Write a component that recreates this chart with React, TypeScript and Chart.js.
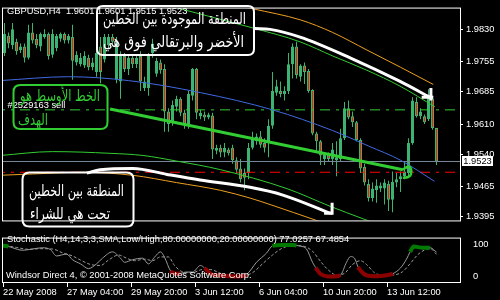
import React, { useEffect, useRef } from "react";
import { Chart, registerables } from "chart.js";

Chart.register(...registerables);

// ---------- DATA ----------
const symbolLabel = "GBPUSD,H4";

const candleOpen = [
  1.9775, 1.9815, 1.9793, 1.9801, 1.9782, 1.979, 1.9764, 1.9823, 1.9808, 1.979,
  1.9812, 1.9819, 1.9771, 1.9786, 1.9808, 1.9819, 1.9804, 1.9812, 1.9753, 1.9749,
  1.9746, 1.9764, 1.9742, 1.9731, 1.979, 1.976, 1.9793, 1.9812, 1.9713, 1.9709,
  1.9768, 1.9738, 1.9764, 1.9749, 1.9768, 1.9694, 1.9694, 1.9775, 1.9727, 1.9753,
  1.9738, 1.9639, 1.9614, 1.965, 1.9669, 1.9636, 1.961, 1.9676, 1.9738, 1.9628,
  1.9632, 1.9625, 1.963, 1.9548, 1.9555, 1.9544, 1.9551, 1.9555, 1.9526, 1.9507,
  1.9496, 1.9496, 1.9555, 1.957, 1.9581, 1.9566, 1.9566, 1.9606, 1.9683, 1.9687,
  1.968, 1.9687, 1.9749, 1.979, 1.972, 1.9746, 1.9733, 1.9689, 1.9588, 1.957,
  1.9529, 1.954, 1.9529, 1.9526, 1.9529, 1.9577, 1.9647, 1.9628, 1.9614, 1.9573,
  1.9511, 1.9471, 1.9438, 1.9456, 1.946, 1.946, 1.9471, 1.9434, 1.9474, 1.9482,
  1.9489, 1.9496, 1.9566, 1.9661, 1.9628, 1.9628, 1.9621, 1.9669, 1.9601,
];
const candleHigh = [
  1.9845, 1.9823, 1.9845, 1.9808, 1.9797, 1.9797, 1.9841, 1.9845, 1.9819, 1.9823,
  1.983, 1.9823, 1.983, 1.9819, 1.9823, 1.9823, 1.9819, 1.9841, 1.9779, 1.9775,
  1.9779, 1.9771, 1.9764, 1.9786, 1.9812, 1.9819, 1.9819, 1.9819, 1.9812, 1.9779,
  1.9775, 1.9771, 1.9771, 1.9771, 1.9779, 1.972, 1.9775, 1.9808, 1.9764, 1.976,
  1.9749, 1.9647, 1.9665, 1.9676, 1.9672, 1.9643, 1.9687, 1.974, 1.974, 1.9643,
  1.9639, 1.9636, 1.9636, 1.9562, 1.9562, 1.9566, 1.9555, 1.9562, 1.9533, 1.9529,
  1.9507, 1.9566, 1.9592, 1.9588, 1.9594, 1.9577, 1.9621, 1.9731, 1.9713, 1.9709,
  1.9698, 1.9775, 1.9797, 1.9801, 1.9749, 1.9753, 1.9738, 1.9691, 1.9592, 1.9573,
  1.9544, 1.9544, 1.9566, 1.957, 1.9599, 1.9661, 1.9665, 1.9639, 1.9617, 1.9577,
  1.9518, 1.9482, 1.9474, 1.9482, 1.9474, 1.9482, 1.9478, 1.95, 1.9496, 1.95,
  1.9522, 1.9577, 1.9672, 1.9672, 1.9647, 1.9632, 1.9691, 1.9676, 1.9601,
];
const candleLow = [
  1.9768, 1.9786, 1.9784, 1.9771, 1.9775, 1.9753, 1.976, 1.9797, 1.9786, 1.9779,
  1.9808, 1.976, 1.9764, 1.9779, 1.9801, 1.9797, 1.9797, 1.9713, 1.9746, 1.9744,
  1.974, 1.9735, 1.9735, 1.972, 1.9705, 1.9753, 1.9786, 1.9793, 1.9705, 1.9669,
  1.9731, 1.9724, 1.974, 1.974, 1.9687, 1.9687, 1.9676, 1.9764, 1.972, 1.9727,
  1.9592, 1.9592, 1.9606, 1.9639, 1.9628, 1.9599, 1.9599, 1.9665, 1.9621, 1.9621,
  1.9617, 1.9621, 1.9529, 1.954, 1.9533, 1.9533, 1.9537, 1.9518, 1.9496, 1.9474,
  1.9456, 1.9482, 1.9551, 1.9562, 1.9555, 1.9544, 1.9533, 1.9599, 1.9676, 1.9672,
  1.9665, 1.968, 1.9716, 1.9716, 1.9709, 1.9703, 1.9683, 1.9584, 1.9548, 1.9515,
  1.9515, 1.9522, 1.9515, 1.9489, 1.9522, 1.9573, 1.9621, 1.9603, 1.957, 1.9496,
  1.9467, 1.943, 1.943, 1.9427, 1.9452, 1.9423, 1.9408, 1.9405, 1.9463, 1.9452,
  1.9482, 1.9489, 1.9562, 1.9625, 1.9621, 1.961, 1.9617, 1.9597, 1.9515,
];
const candleClose = [
  1.9819, 1.9797, 1.983, 1.9779, 1.979, 1.9764, 1.9823, 1.9804, 1.9793, 1.9819,
  1.9819, 1.9768, 1.9819, 1.9815, 1.9819, 1.9804, 1.9815, 1.9757, 1.9771, 1.9764,
  1.9768, 1.9742, 1.9753, 1.9775, 1.9731, 1.9812, 1.9812, 1.9801, 1.9797, 1.9768,
  1.9738, 1.9764, 1.9749, 1.9764, 1.9709, 1.9709, 1.9768, 1.9797, 1.9757, 1.9735,
  1.9639, 1.961, 1.9654, 1.9669, 1.9636, 1.961, 1.968, 1.9738, 1.9636, 1.9636,
  1.9625, 1.9632, 1.9551, 1.9555, 1.9544, 1.9555, 1.9542, 1.9526, 1.9504, 1.9482,
  1.9485, 1.9555, 1.9577, 1.9581, 1.9562, 1.9555, 1.9606, 1.9687, 1.9698, 1.968,
  1.9687, 1.9749, 1.979, 1.9724, 1.9746, 1.9731, 1.9687, 1.9588, 1.957, 1.9537,
  1.954, 1.9529, 1.9551, 1.9533, 1.9577, 1.9647, 1.9625, 1.9614, 1.9573, 1.9507,
  1.9474, 1.9438, 1.946, 1.9467, 1.9467, 1.9474, 1.9434, 1.9476, 1.9482, 1.9489,
  1.95, 1.9566, 1.9665, 1.9628, 1.9639, 1.9614, 1.9672, 1.9601, 1.9523,
];

const xTickBars = [0, 16, 32, 48, 64, 80, 96];
const xTickLabels = [
  "22 May 2008",
  "27 May 04:00",
  "29 May 20:00",
  "3 Jun 12:00",
  "6 Jun 04:00",
  "10 Jun 20:00",
  "13 Jun 12:00",
];
const priceTicks = [1.983, 1.9755, 1.9685, 1.961, 1.954, 1.9465, 1.9395];
const stochTicks = [0, 100];

// indicator curves: [bar index, price]
const blueMA = [[-1, 1.9711], [16, 1.972], [31, 1.9711], [49, 1.9683], [67, 1.9643], [82, 1.9595], [91, 1.9559], [99, 1.9526], [107.5, 1.9477]];
const orangeUpper = [[48, 1.9907], [62, 1.9878], [74, 1.9852], [82, 1.9823], [90.6, 1.9782], [99, 1.9742], [107.2, 1.9702]];
const greenUpper = [[36.4, 1.9898], [43.9, 1.9878], [62.6, 1.9832], [73.9, 1.9801], [82.1, 1.9768], [90.6, 1.9735], [98.9, 1.9698], [107.6, 1.965]];
const greenLower = [[-1, 1.9537], [12, 1.9546], [26.4, 1.9542], [34.6, 1.9537], [43, 1.9524], [54, 1.9504], [70.6, 1.946], [81.4, 1.9419], [89.6, 1.939], [94, 1.9375]];
const orangeLower = [[-1, 1.9491], [7, 1.9494], [19.6, 1.9498], [32, 1.9491], [43, 1.9474], [54, 1.9456], [61.4, 1.9438], [66.4, 1.9423], [78, 1.9386], [81.4, 1.9375]];
const middleLine = [[26.4, 1.9645], [99.6, 1.9504]];
const middleHook = [[99.6, 1.9504], [100.9, 1.9511], [101.6, 1.9507], [101.6, 1.9493], [100.9, 1.9487], [99.6, 1.9485]];
const arrowUpper = [[62.6, 1.9832], [66.4, 1.983], [73.9, 1.9812], [86.4, 1.9764], [98.9, 1.9709], [106.4, 1.9672]];
const arrowUpperHeadV = [[106.6, 1.9694], [106.6, 1.9665]];
const arrowUpperHeadH = [[104.3, 1.9672], [107.2, 1.9672]];
const arrowLower = [[20.6, 1.9496], [23.9, 1.9504], [32.1, 1.9507], [40.6, 1.9493], [48.9, 1.948], [61.4, 1.9463], [69.6, 1.9445], [81.4, 1.9403]];
const arrowLowerHeadV = [[81.9, 1.9427], [81.9, 1.9399]];
const arrowLowerHeadH = [[79.9, 1.9403], [81.9, 1.9403]];

const orderTicket = "#2529163 sell";
const targetLevel = 1.9643;
const stopLevel = 1.9498;

// stochastic: [bar index, value]
const stochMain = [
  [-1, 98], [1, 95], [2, 91], [4.5, 83], [7, 87], [9.5, 91], [11.5, 85], [13, 65], [15.5, 71], [17, 53],
  [19, 40], [21, 25], [23, 40], [24.5, 58], [27, 78], [29, 58], [30, 45], [32, 53], [34.5, 58], [36, 40],
  [37.5, 61], [39, 78], [40, 61], [41.5, 18], [43, 9], [44, 10], [45.5, 14], [47, 14], [49, 35], [50, 27],
  [51.5, 9], [54, 3], [56.5, 1], [58.5, 0], [60.5, 6], [63, 45], [65.5, 74], [67, 97], [69.5, 100], [72, 100],
  [73, 98], [74, 96], [75.5, 87], [77, 45], [77.8, 28], [79, 8], [80.5, 1], [82, 0], [84, 5], [85.5, 45],
  [86.5, 63], [87.5, 58], [88.4, 30], [89.5, 12], [90.5, 4], [93, 1], [95.5, 4], [97.1, 9], [99, 27], [100.5, 55],
  [101.4, 78], [102.3, 95], [104.5, 91], [106.4, 91], [108, 77],
];
const stochSignal = [
  [-1, 100], [3, 92], [6, 86], [9, 88], [12, 87], [14.5, 75], [17, 65], [19, 52], [21.5, 38], [24, 35],
  [26, 52], [28.5, 68], [30.5, 58], [32.5, 50], [35, 55], [37, 50], [39, 62], [41, 62], [42.5, 35], [44.5, 15],
  [47, 12], [49.5, 22], [51.5, 22], [54, 10], [57, 3], [59.5, 2], [62, 12], [64.5, 40], [67, 68], [69.5, 90],
  [72.5, 98], [75, 95], [77, 80], [79, 48], [81, 20], [83, 5], [85, 10], [87, 38], [89, 50], [90.5, 38],
  [92.5, 12], [95, 3], [97.5, 5], [99.5, 15], [101.5, 42], [103, 65], [105, 84], [106.5, 88], [108, 70],
];
const stochRedZones = [[41.5, 44], [50, 60.5], [77.8, 84], [88.4, 97.1]];
const stochGreenZones = [[-1, 1], [67, 73], [101.4, 106.4]];
const stochLabel = "Stochastic (H4,14,3,3,SMA,Low/High,80.00000000,20.00000000) 77.0257 67.4854";
const copyrightLabel = "Windsor Direct 4, \u00A9 2001-2008 MetaQuotes Software Corp.";

const noteTop = ["المنطقة الموجودة بين الخطين", "الأخضر والبرتقالي فوق هي"];
const noteMiddle = ["الخط الأوسط هو", "الهدف"];
const noteBottom = ["المنطقة بين الخطين", "تحت هي للشراء"];

// ---------- STYLE ----------
const X_MIN = -0.375;
const X_MAX = 113.875;
const PRICE_MAX = 1.98783;
const PRICE_MIN = 1.93861;
const STOCH_MIN = -17.4;
const STOCH_MAX = 120;
const FONT_FAMILY = '"Liberation Sans", Arial, sans-serif';
const FONT_SIZE = 9.3;
const AR_FONT = '"DejaVu Sans", sans-serif';
const BULL = "#3cb371";
const BEAR = "#ff1a00";
const LIME = "#32cd32";
const ORANGE = "#eea020";
const BLUE = "#4169e1";

const pts = (arr: number[][]) => arr.map(([x, y]) => ({ x, y }));

function lineDs(arr: number[][], color: string, width: number, extra: any = {}) {
  return {
    type: "line",
    data: pts(arr),
    borderColor: color,
    borderWidth: width,
    pointRadius: 0,
    fill: false,
    tension: 0.4,
    cubicInterpolationMode: "monotone",
    order: 2,
    ...extra,
  };
}

function roundRectPath(ctx: CanvasRenderingContext2D, x: number, y: number, w: number, h: number, r: number) {
  ctx.beginPath();
  ctx.moveTo(x + r, y);
  ctx.lineTo(x + w - r, y);
  ctx.quadraticCurveTo(x + w, y, x + w, y + r);
  ctx.lineTo(x + w, y + h - r);
  ctx.quadraticCurveTo(x + w, y + h, x + w - r, y + h);
  ctx.lineTo(x + r, y + h);
  ctx.quadraticCurveTo(x, y + h, x, y + h - r);
  ctx.lineTo(x, y + r);
  ctx.quadraticCurveTo(x, y, x + r, y);
  ctx.closePath();
}

function fitArabic(ctx: CanvasRenderingContext2D, text: string, left: number, right: number, baseline: number, color: string) {
  ctx.save();
  ctx.font = `16px ${AR_FONT}`;
  ctx.direction = "rtl";
  ctx.textAlign = "right";
  ctx.textBaseline = "alphabetic";
  ctx.fillStyle = color;
  const w = ctx.measureText(text).width || 1;
  ctx.translate(right, baseline);
  ctx.scale((right - left) / w, 1);
  ctx.fillText(text, 0, 0);
  ctx.restore();
}

const mainOverlay = {
  id: "mainOverlay",
  afterDraw(chart: any) {
    const { ctx, chartArea: a, scales } = chart;
    ctx.save();
    ctx.strokeStyle = "#ffffff";
    ctx.lineWidth = 1;
    ctx.strokeRect(a.left - 0.5, a.top - 0.5, a.right - a.left + 1, a.bottom - a.top + 1);

    const n = candleClose.length - 1;
    const f = (v: number) => v.toFixed(4);
    ctx.font = `${FONT_SIZE}px ${FONT_FAMILY}`;
    ctx.fillStyle = "#ffffff";
    ctx.textAlign = "left";
    ctx.textBaseline = "middle";
    ctx.fillText(`${symbolLabel}  ${f(candleOpen[n])} ${f(candleHigh[n])} ${f(candleLow[n])} ${f(candleClose[n])}`, 7, 11);
    ctx.fillText(orderTicket, 7.5, 105);

    // bid label
    const bid = candleClose[n];
    const yb = Math.round(scales.y.getPixelForValue(bid));
    ctx.fillStyle = "#ffffff";
    ctx.fillRect(462, yb - 5, 31, 10);
    ctx.fillStyle = "#000000";
    ctx.textAlign = "center";
    ctx.fillText(f(bid), 477.5, yb + 0.5);

    // annotation boxes
    ctx.lineWidth = 2;
    ctx.strokeStyle = "#ffffff";
    roundRectPath(ctx, 97, 6, 157, 49, 6);
    ctx.stroke();
    fitArabic(ctx, noteTop[0], 103, 246, 24, "#ffffff");
    fitArabic(ctx, noteTop[1], 103, 244, 47, "#ffffff");

    ctx.strokeStyle = LIME;
    roundRectPath(ctx, 13.5, 85, 94, 44, 7);
    ctx.stroke();
    fitArabic(ctx, noteMiddle[0], 20, 100, 101, LIME);
    fitArabic(ctx, noteMiddle[1], 18, 48, 125, LIME);

    ctx.strokeStyle = "#ffffff";
    roundRectPath(ctx, 22.5, 172.5, 111, 54, 7);
    ctx.stroke();
    fitArabic(ctx, noteBottom[0], 29, 124, 196, "#ffffff");
    fitArabic(ctx, noteBottom[1], 30, 110, 219, "#ffffff");
    ctx.restore();
  },
};

const stochOverlay = {
  id: "stochOverlay",
  afterDraw(chart: any) {
    const { ctx, chartArea: a } = chart;
    ctx.save();
    ctx.strokeStyle = "#ffffff";
    ctx.lineWidth = 1;
    ctx.strokeRect(a.left - 0.5, a.top - 0.5, a.right - a.left + 1, a.bottom - a.top + 1);
    ctx.font = `${FONT_SIZE}px ${FONT_FAMILY}`;
    ctx.fillStyle = "#ffffff";
    ctx.textAlign = "left";
    ctx.textBaseline = "middle";
    ctx.fillText(stochLabel, 7, 11);
    ctx.fillText(copyrightLabel, 6, 47);
    ctx.restore();
  },
};

const inZone = (zones: number[][], x: number) => zones.some(([a, b]) => x >= a && x <= b);

export default function App() {
  const mainRef = useRef<HTMLCanvasElement>(null);
  const stochRef = useRef<HTMLCanvasElement>(null);

  useEffect(() => {
    const n = candleClose.length - 1;
    const wickData = candleOpen.map((_, i) => ({ x: i, y: [candleLow[i], candleHigh[i]] }));
    const bodyData = candleOpen.map((o, i) => ({ x: i, y: [o, candleClose[i]] }));
    const bodyFill = candleOpen.map((o, i) => (candleClose[i] >= o ? BULL : BEAR));
    const hLine = (v: number) => [[X_MIN - 2, v], [X_MAX + 2, v]];

    const main = new Chart(mainRef.current as HTMLCanvasElement, {
      type: "bar",
      data: {
        datasets: [
          {
            type: "bar",
            data: wickData,
            backgroundColor: BULL,
            borderWidth: 0,
            barThickness: 1,
            grouped: false,
            inflateAmount: 0,
            order: 11,
          },
          {
            type: "bar",
            data: bodyData,
            backgroundColor: bodyFill,
            borderColor: BULL,
            borderWidth: 1,
            borderSkipped: false,
            barThickness: 3,
            minBarLength: 1,
            grouped: false,
            inflateAmount: 0,
            order: 10,
          },
          lineDs(orangeUpper, ORANGE, 1),
          lineDs(orangeLower, ORANGE, 1),
          lineDs(greenUpper, LIME, 1),
          lineDs(greenLower, LIME, 1),
          lineDs(blueMA, BLUE, 1),
          lineDs(hLine(targetLevel), LIME, 1, { tension: 0, borderDash: [10, 6, 3, 6] }),
          lineDs(hLine(stopLevel), "#ff0000", 1, { tension: 0, borderDash: [10, 6, 3, 6] }),
          lineDs(hLine(candleClose[n]), "#778899", 1, { tension: 0 }),
          lineDs(middleLine, LIME, 3, { tension: 0, order: 1 }),
          lineDs(middleHook, LIME, 2.5, { cubicInterpolationMode: "default", tension: 0.4, order: 1 }),
          lineDs(arrowUpper, "#ffffff", 3, { order: 0 }),
          lineDs(arrowUpperHeadV, "#ffffff", 3, { tension: 0, order: 0 }),
          lineDs(arrowUpperHeadH, "#ffffff", 3, { tension: 0, order: 0 }),
          lineDs(arrowLower, "#ffffff", 3, { order: 0 }),
          lineDs(arrowLowerHeadV, "#ffffff", 3, { tension: 0, order: 0 }),
          lineDs(arrowLowerHeadH, "#ffffff", 3, { tension: 0, order: 0 }),
        ] as any,
      },
      options: {
        animation: false,
        responsive: false,
        devicePixelRatio: 1,
        events: [],
        layout: { padding: { left: 3, top: 3, right: 0, bottom: 2 } },
        plugins: { legend: { display: false }, tooltip: { enabled: false } },
        scales: {
          x: { type: "linear", min: X_MIN, max: X_MAX, display: false, offset: false },
          y: {
            type: "linear",
            position: "right",
            min: PRICE_MIN,
            max: PRICE_MAX,
            afterFit: (s: any) => {
              s.width = 40;
            },
            afterBuildTicks: (s: any) => {
              s.ticks = priceTicks.map((value) => ({ value }));
            },
            ticks: {
              color: "#ffffff",
              font: { family: FONT_FAMILY, size: FONT_SIZE },
              padding: 3,
              callback: (v: any) => Number(v).toFixed(4),
            },
            grid: { drawOnChartArea: false, color: "#ffffff", tickLength: 3 },
            border: { display: false },
          },
        },
      } as any,
      plugins: [mainOverlay],
    } as any);

    const stoch = new Chart(stochRef.current as HTMLCanvasElement, {
      type: "line",
      data: {
        datasets: [
          {
            data: pts(stochSignal),
            borderColor: "#9a9a9a",
            borderWidth: 1,
            borderDash: [3, 2],
            pointRadius: 0,
            tension: 0.3,
            cubicInterpolationMode: "monotone",
            order: 2,
          },
          {
            data: pts(stochMain),
            borderColor: "#9a9a9a",
            borderWidth: 1,
            pointRadius: 0,
            tension: 0.3,
            cubicInterpolationMode: "monotone",
            order: 1,
            segment: {
              borderColor: (c: any) => {
                const m = (c.p0.parsed.x + c.p1.parsed.x) / 2;
                if (inZone(stochRedZones, m)) return "#8b0000";
                if (inZone(stochGreenZones, m)) return "#007a00";
                return undefined;
              },
              borderWidth: (c: any) => {
                const m = (c.p0.parsed.x + c.p1.parsed.x) / 2;
                return inZone(stochRedZones, m) || inZone(stochGreenZones, m) ? 4 : undefined;
              },
            },
          },
        ] as any,
      },
      options: {
        animation: false,
        responsive: false,
        devicePixelRatio: 1,
        events: [],
        layout: { padding: { left: 3, top: 2, right: 0, bottom: 0 } },
        plugins: { legend: { display: false }, tooltip: { enabled: false } },
        scales: {
          x: {
            type: "linear",
            min: X_MIN,
            max: X_MAX,
            offset: false,
            afterFit: (s: any) => {
              s.height = 18;
            },
            afterBuildTicks: (s: any) => {
              s.ticks = xTickBars.map((b) => ({ value: b - 0.375 }));
            },
            ticks: {
              color: "#ffffff",
              font: { family: FONT_FAMILY, size: FONT_SIZE },
              align: "start",
              padding: 0,
              maxRotation: 0,
              autoSkip: false,
              callback: (_v: any, idx: number) => xTickLabels[idx],
            },
            grid: { drawOnChartArea: false, color: "#ffffff", tickLength: 5 },
            border: { display: false },
          },
          y: {
            type: "linear",
            position: "right",
            min: STOCH_MIN,
            max: STOCH_MAX,
            afterFit: (s: any) => {
              s.width = 40;
            },
            afterBuildTicks: (s: any) => {
              s.ticks = stochTicks.map((value) => ({ value }));
            },
            ticks: {
              color: "#ffffff",
              font: { family: FONT_FAMILY, size: FONT_SIZE },
              padding: 5,
              callback: (v: any) => String(v),
            },
            grid: { display: false },
            border: { display: false },
          },
        },
      } as any,
      plugins: [stochOverlay],
    } as any);

    return () => {
      main.destroy();
      stoch.destroy();
    };
  }, []);

  return (
    <div style={{ position: "fixed", left: 0, top: 0, width: 500, height: 300, background: "#000", overflow: "hidden" }}>
      <canvas ref={mainRef} width={500} height={229} style={{ position: "absolute", left: 0, top: 0, width: 500, height: 229 }} />
      <canvas ref={stochRef} width={500} height={72} style={{ position: "absolute", left: 0, top: 228, width: 500, height: 72 }} />
    </div>
  );
}
